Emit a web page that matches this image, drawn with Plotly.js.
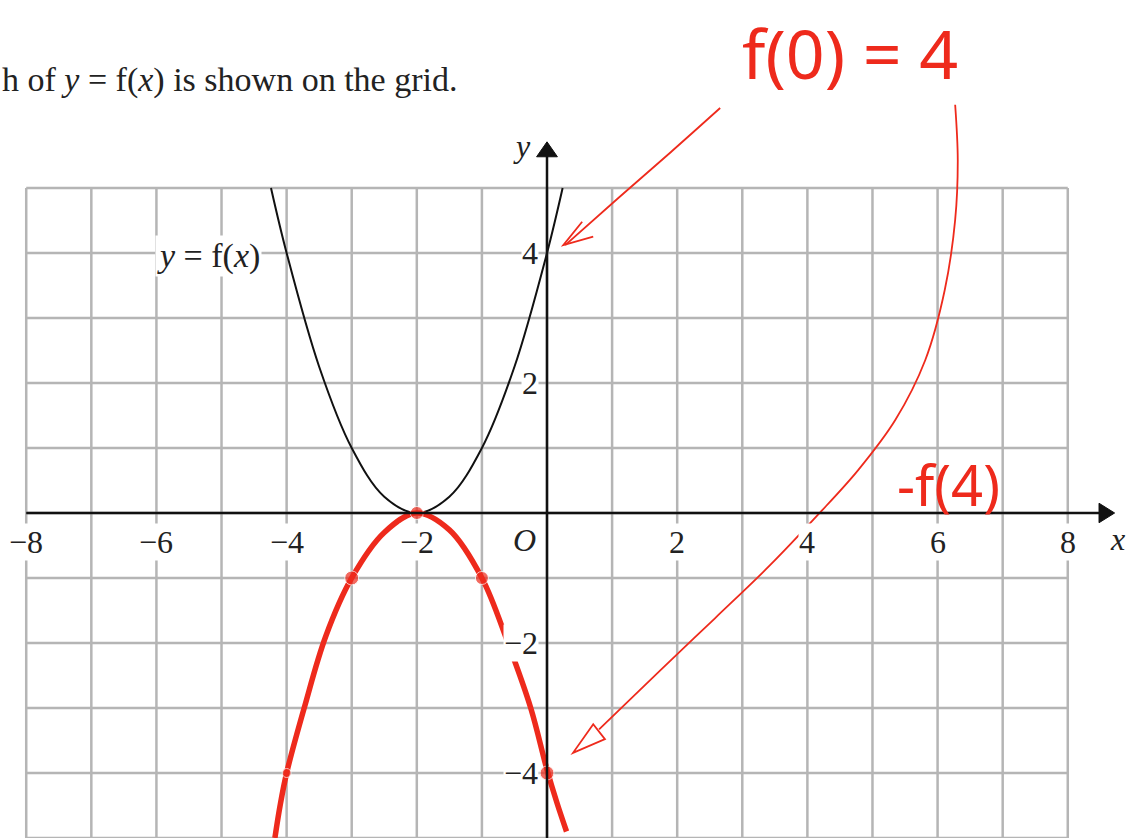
<!DOCTYPE html>
<html>
<head>
<meta charset="utf-8">
<script src="https://cdn.plot.ly/plotly-3.0.1.min.js"></script>
<style>
  html, body { margin: 0; padding: 0; background: #ffffff; }
  #chart { width: 1133px; height: 838px; }
</style>
</head>
<body>
<div id="chart"></div>
<script>
// y = f(x): the printed parabola
const curveX = [-4.24, -4, -3.5, -3, -2.5, -2, -1.5, -1, -0.5, 0, 0.24];
const curveY = [5.0, 4, 2.25, 1, 0.25, 0, 0.25, 1, 2.25, 4, 5.0];

// y = -f(x): the hand-drawn reflection
const reflX = [-4.18, -4.1, -4.0, -3.73, -3.4, -3.0, -2.5, -2.0, -1.5, -1.0, -0.6, -0.25, 0.0, 0.15, 0.3];
const reflY = [-5.0, -4.5, -4.0, -3.0, -1.9, -1.0, -0.3, 0.0, -0.26, -1.0, -2.0, -3.0, -3.95, -4.45, -4.9];

// plotted points of -f(x)
const ptsX = [-4, -3, -2, -1, 0];
const ptsY = [-4, -1, 0, -1, -4];
const ptsSize = [9, 14, 13, 13, 14];

// grid and tick labels
const gridXs = [-8, -7, -6, -5, -4, -3, -2, -1, 0, 1, 2, 3, 4, 5, 6, 7, 8];
const gridYs = [-5, -4, -3, -2, -1, 0, 1, 2, 3, 4, 5];
const xTickVals = [-8, -6, -4, -2, 2, 4, 6, 8];
const yTickVals = [4, 2, -2, -4];

// hand-drawn arrows
const arrow1X = [2.66, 1.9, 1.1, 0.28];
const arrow1Y = [6.23, 5.55, 4.85, 4.12];
const arrow2X = [6.27, 6.31, 6.27, 6.11, 5.81, 5.35, 4.78, 4.16, 3.43, 2.58, 1.74, 0.80];
const arrow2Y = [6.28, 5.43, 4.51, 3.43, 2.35, 1.43, 0.66, -0.03, -0.80, -1.62, -2.42, -3.33];

const RED = '#ee2a1c';
const GRID = '#b5b5b5';
const SERIF = 'Liberation Serif, Times New Roman, serif';
const HAND = 'Noto Sans, DejaVu Sans, sans-serif';

const shapes = [];
gridXs.forEach(function (gx) {
  shapes.push({type: 'line', layer: 'below', xref: 'x', yref: 'y',
    x0: gx, x1: gx, y0: -5.2, y1: 5, line: {color: GRID, width: 2.5}});
});
gridYs.forEach(function (gy) {
  shapes.push({type: 'line', layer: 'below', xref: 'x', yref: 'y',
    x0: -8, x1: 8, y0: gy, y1: gy, line: {color: GRID, width: 2.5}});
});
// axes with arrowheads
shapes.push({type: 'line', xref: 'x', yref: 'y', x0: -8, x1: 8.5, y0: 0, y1: 0,
  line: {color: '#111111', width: 2.5}});
shapes.push({type: 'line', xref: 'x', yref: 'y', x0: 0, x1: 0, y0: -5.2, y1: 5.5,
  line: {color: '#111111', width: 2.5}});
shapes.push({type: 'path', xref: 'x', yref: 'y',
  path: 'M 8.48 0.15 L 8.72 0 L 8.48 -0.15 Z', fillcolor: '#111111', line: {color: '#111111', width: 1}});
shapes.push({type: 'path', xref: 'x', yref: 'y',
  path: 'M -0.16 5.48 L 0 5.71 L 0.16 5.48 Z', fillcolor: '#111111', line: {color: '#111111', width: 1}});
// arrowheads of the hand-drawn arrows
shapes.push({type: 'path', xref: 'x', yref: 'y',
  path: 'M 0.54 4.48 L 0.25 4.12 L 0.71 4.25', line: {color: RED, width: 1.8}});
shapes.push({type: 'path', xref: 'x', yref: 'y',
  path: 'M 0.71 -3.25 L 0.40 -3.69 L 0.89 -3.48 Z', line: {color: RED, width: 1.8}});

const annotations = [];
function label(x, y, text, opts) {
  annotations.push(Object.assign({
    x: x, y: y, xref: 'x', yref: 'y', text: text, showarrow: false,
    font: {family: SERIF, size: 32, color: '#222222'},
    bgcolor: '#ffffff', borderpad: 0
  }, opts || {}));
}
xTickVals.forEach(function (v) {
  label(v, -0.45, (v < 0 ? '\u2212' : '') + Math.abs(v));
});
yTickVals.forEach(function (v) {
  label(-0.12, v, (v < 0 ? '\u2212' : '') + Math.abs(v), {xanchor: 'right'});
});
label(-0.34, -0.42, '<i>O</i>', {bgcolor: 'rgba(0,0,0,0)'});
label(8.77, -0.40, '<i>x</i>', {bgcolor: 'rgba(0,0,0,0)'});
label(-0.38, 5.64, '<i>y</i>', {bgcolor: 'rgba(0,0,0,0)'});
label(-5.2, 3.95, '<i>y</i> = f(<i>x</i>)', {borderpad: 1, font: {family: SERIF, size: 34, color: '#222222'}});
annotations.push({
  xref: 'paper', yref: 'y', x: 0, y: 6.66, xanchor: 'left', showarrow: false,
  text: 'h of <i>y</i> = f(<i>x</i>) is shown on the grid.',
  font: {family: SERIF, size: 34, color: '#222222'}
});
annotations.push({
  xref: 'x', yref: 'y', x: 4.65, y: 7.08, showarrow: false,
  text: 'f(0) = 4', font: {family: HAND, size: 68, color: RED}
});
annotations.push({
  xref: 'x', yref: 'y', x: 6.16, y: 0.45, showarrow: false,
  text: '-f(4)', font: {family: HAND, size: 56, color: RED}
});

const traces = [
  {x: curveX, y: curveY, mode: 'lines', line: {color: '#111111', width: 2, shape: 'spline', smoothing: 1},
   hoverinfo: 'skip'},
  {x: arrow1X, y: arrow1Y, mode: 'lines', line: {color: RED, width: 1.8, shape: 'spline'}, hoverinfo: 'skip'},
  {x: arrow2X, y: arrow2Y, mode: 'lines', line: {color: RED, width: 1.8, shape: 'spline', smoothing: 1},
   hoverinfo: 'skip'},
  {x: reflX, y: reflY, mode: 'lines', line: {color: RED, width: 5.5, shape: 'spline', smoothing: 1},
   hoverinfo: 'skip'},
  {x: ptsX, y: ptsY, mode: 'markers', marker: {color: RED, size: ptsSize}, hoverinfo: 'skip'}
];

const layout = {
  width: 1133, height: 838,
  margin: {l: 0, r: 0, t: 0, b: 0},
  paper_bgcolor: '#ffffff', plot_bgcolor: '#ffffff',
  showlegend: false,
  xaxis: {range: [-8.403, 9.002], visible: false, fixedrange: true},
  yaxis: {range: [-5.0, 7.892], visible: false, fixedrange: true},
  shapes: shapes,
  annotations: annotations
};

Plotly.newPlot('chart', traces, layout, {staticPlot: true, displayModeBar: false});
</script>
</body>
</html>
